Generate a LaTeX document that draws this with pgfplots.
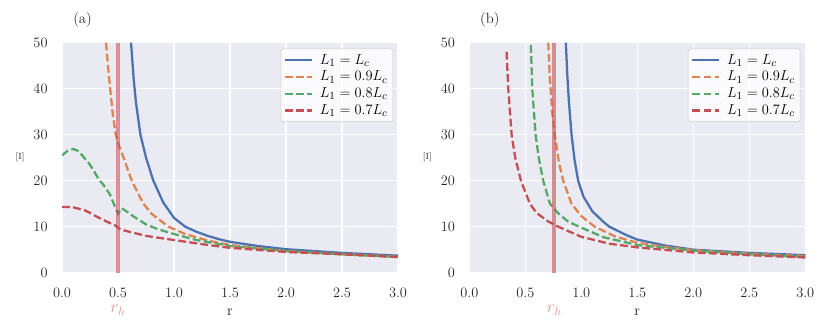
\documentclass[border=0pt]{standalone}
\usepackage{pgfplots}
\pgfplotsset{compat=1.18}
\usepackage{xcolor}
\definecolor{sbg}{RGB}{234,234,242}
\definecolor{sblue}{RGB}{76,114,176}
\definecolor{sorange}{RGB}{221,132,82}
\definecolor{sgreen}{RGB}{85,168,104}
\definecolor{sred}{RGB}{196,78,82}
\definecolor{txt}{RGB}{38,38,38}

\newcommand\fs{\fontsize{12.3}{14}\selectfont}

\pgfplotsset{
  panel/.style={
    scale only axis,
    width=280pt, height=191.7pt,
    xmin=0, xmax=3, ymin=0, ymax=50,
    xtick={0,0.5,...,3.0},
    ytick={0,10,...,50},
    xticklabel style={/pgf/number format/fixed, /pgf/number format/fixed zerofill, /pgf/number format/precision=1},
    tick label style={font=\fs, text=txt},
    xticklabel shift=9pt, yticklabel shift=8.5pt,
    major tick length=0pt,
    axis line style={draw=none},
    axis background/.style={fill=sbg},
    grid=major,
    grid style={white, line width=1.1pt},
    xlabel={r},
    xlabel style={at={(axis description cs:0.5,-0.17)}, anchor=center, font=\fs, text=txt},
    ylabel={[I]},
    ylabel style={rotate=-90, at={(axis description cs:-0.125,0.5)}, anchor=center, font=\fontsize{7.5}{8}\selectfont, text=txt},
    title style={at={(axis description cs:0.061,1.07)}, anchor=center, font=\fs, text=txt},
    clip mode=individual,
    legend cell align=left,
    legend style={at={(1,1)}, xshift=-4pt, yshift=-5pt, anchor=north east,
      fill=white, fill opacity=0.8, text opacity=1, draw=black!20, rounded corners=2pt,
      font=\fs, row sep=0.3pt, inner sep=2.5pt},
    legend image code/.code={\draw[#1] (0pt,0pt) -- (22pt,0pt); \path (26pt,0pt);},
  },
  cur/.style={line width=1.9pt},
  dsh/.style={line width=1.9pt, dash pattern=on 6.5pt off 2.8pt},
  rh/.style={sred, opacity=0.6, line width=3.4pt},
}

\begin{document}
\begin{tikzpicture}
\useasboundingbox (-51.7pt,-50.25pt) rectangle (640pt,227.25pt);

% (a)
\begin{axis}[panel, title={(a)}]
\addplot[cur, sblue] coordinates {
 (0.616,50) (0.64,42) (0.66,37) (0.70,30) (0.75,25) (0.815,20) (0.905,15.2)
 (1.0,11.9) (1.1,10.0) (1.2,8.9) (1.3,8.0) (1.4,7.3) (1.5,6.7) (1.75,5.8)
 (2.0,5.1) (2.5,4.3) (3.0,3.7)};
\addlegendentry{$L_1 = L_c$}
\addplot[dsh, sorange] coordinates {
 (0.393,50) (0.41,45) (0.43,40) (0.455,34) (0.48,30) (0.51,27.5) (0.55,25)
 (0.622,20) (0.726,15) (0.8,12.8) (0.95,10) (1.1,8.4) (1.3,7.0) (1.5,6.0)
 (2.0,4.7) (2.5,4.0) (3.0,3.5)};
\addlegendentry{$L_1 = 0.9L_c$}
\addplot[dsh, sgreen] coordinates {
 (0,25.5) (0.05,26.5) (0.1,26.9) (0.15,26.4) (0.19,25.2) (0.24,23.8) (0.28,22.3)
 (0.33,20.2) (0.37,19.1) (0.43,16.9) (0.473,14.3) (0.5,12.8) (0.53,14.0)
 (0.56,13.6) (0.64,12.2) (0.75,10.5) (0.85,9.5) (1.0,8.4) (1.2,7.1) (1.5,5.8)
 (2.0,4.7) (2.5,4.0) (3.0,3.4)};
\addlegendentry{$L_1 = 0.8L_c$}
\addplot[dsh, sred] coordinates {
 (0,14.3) (0.05,14.3) (0.1,14.2) (0.15,13.9) (0.2,13.6) (0.25,13.0) (0.3,12.3)
 (0.35,11.7) (0.4,11.1) (0.48,10.2) (0.52,9.4) (0.6,8.9) (0.75,8.0) (1.0,7.1)
 (1.25,6.2) (1.5,5.4) (2.0,4.5) (2.5,4.0) (3.0,3.4)};
\addlegendentry{$L_1 = 0.7L_c$}
\addplot[rh, forget plot] coordinates {(0.5,0) (0.5,50)};
\node[text=sred!60, font=\fontsize{14}{16}\selectfont] at (axis cs:0.5,0) [yshift=-31.5pt] {$r_h$};
\end{axis}

% (b)
\begin{axis}[panel, title={(b)}, xshift=339.4pt]
\addplot[cur, sblue] coordinates {
 (0.862,50) (0.875,43) (0.89,37) (0.913,30) (0.94,24.5) (0.972,20) (1.02,16.5)
 (1.1,13.3) (1.2,11.0) (1.25,10.0) (1.4,8.2) (1.5,7.2) (1.75,5.9) (2.0,5.0)
 (2.5,4.3) (3.0,3.8)};
\addlegendentry{$L_1 = L_c$}
\addplot[dsh, sorange] coordinates {
 (0.705,50) (0.72,42) (0.74,35) (0.764,30) (0.8,24) (0.838,20) (0.913,15)
 (1.0,12.3) (1.12,10.0) (1.3,7.9) (1.5,6.5) (1.75,5.6) (2.0,4.9) (2.5,4.1)
 (3.0,3.6)};
\addlegendentry{$L_1 = 0.9L_c$}
\addplot[dsh, sgreen] coordinates {
 (0.55,49.5) (0.562,40) (0.592,30) (0.62,25) (0.66,20) (0.72,15) (0.794,12.9)
 (0.883,11.1) (0.98,10.0) (1.2,7.7) (1.5,6.0) (2.0,4.8) (2.5,4.0) (3.0,3.4)};
\addlegendentry{$L_1 = 0.8L_c$}
\addplot[dsh, sred] coordinates {
 (0.333,48) (0.348,40) (0.378,30) (0.41,25) (0.461,20) (0.541,15) (0.6,13.0)
 (0.7,11.2) (0.794,10.0) (1.0,7.8) (1.25,6.3) (1.5,5.5) (2.0,4.4) (2.5,3.8)
 (3.0,3.3)};
\addlegendentry{$L_1 = 0.7L_c$}
\addplot[rh, forget plot] coordinates {(0.76,0) (0.76,50)};
\node[text=sred!60, font=\fontsize{14}{16}\selectfont] at (axis cs:0.76,0) [yshift=-31.5pt] {$r_h$};
\end{axis}
\end{tikzpicture}
\end{document}
